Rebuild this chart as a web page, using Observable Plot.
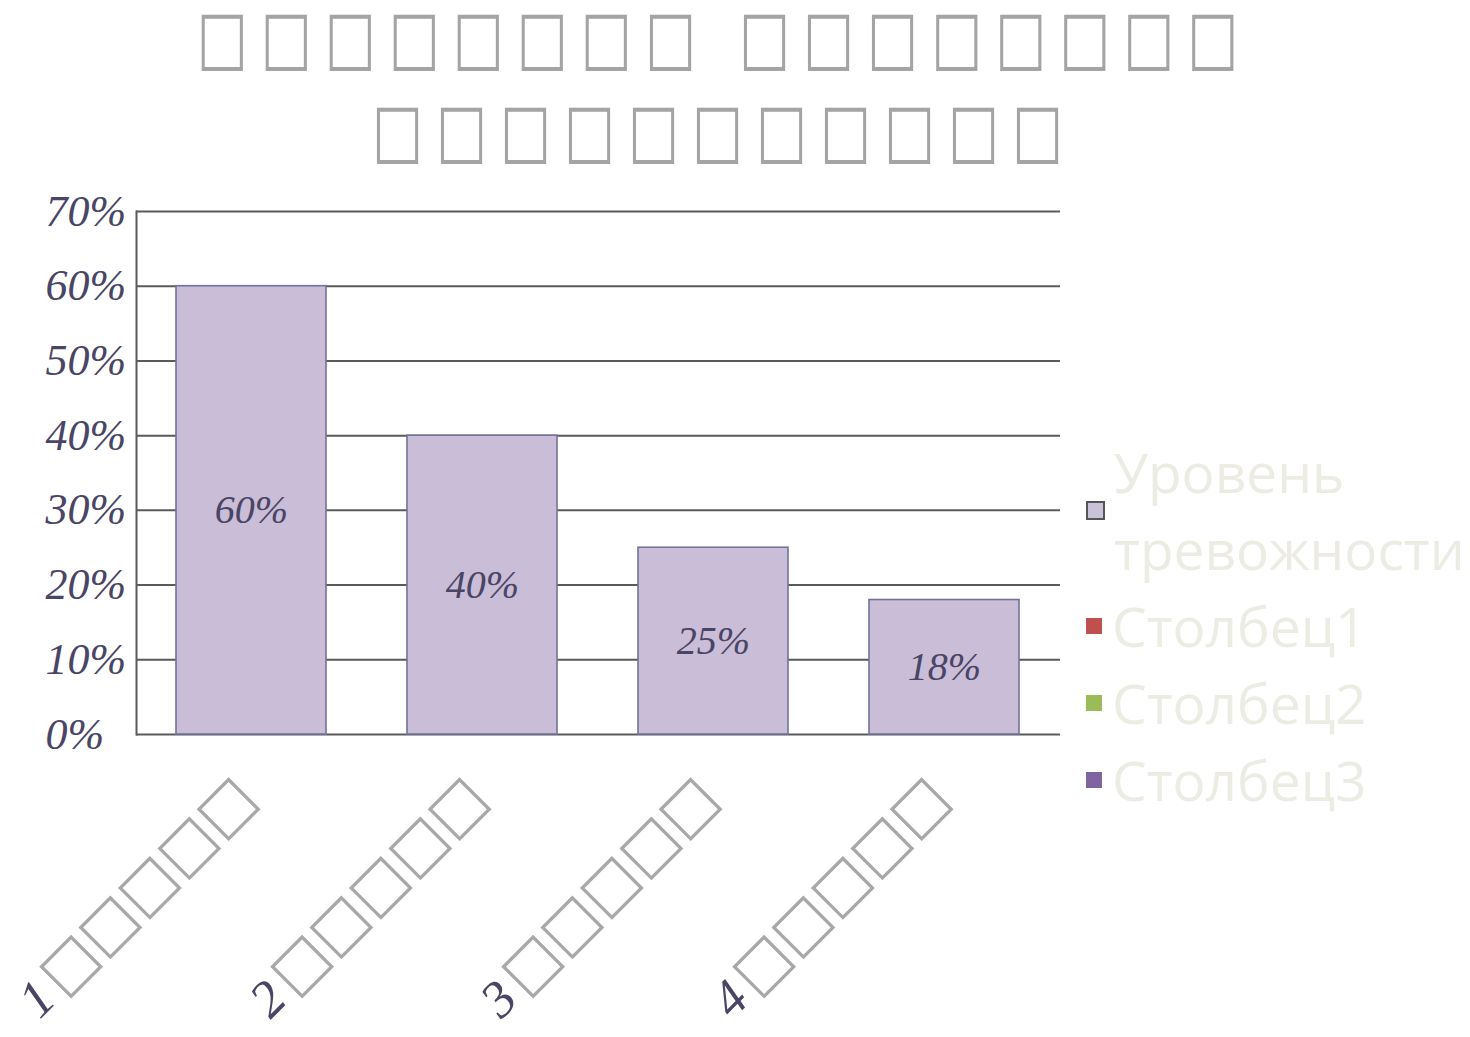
<!DOCTYPE html>
<html>
<head>
<meta charset="utf-8">
<script src="https://cdn.jsdelivr.net/npm/d3@7"></script>
<script src="https://cdn.jsdelivr.net/npm/@observablehq/plot@0.6"></script>
<style>
  html, body { margin: 0; padding: 0; background: #fff; }
  #wrap { position: relative; width: 1470px; height: 1037px; overflow: hidden; }
  #title { position: relative; height: 180px; width: 1435px; text-align: center; font-family: "DejaVu Sans"; color: #a4a4a4; }
  #title div { position: absolute; left: 0; width: 1435px; padding-left: 13px; box-sizing: border-box; height: 50px; font-size: 54px; line-height: 50px; white-space: pre; letter-spacing: 13px; transform: scaleY(1.37); transform-origin: 50% 50%; }
  #title div.l1 { top: 12px; }
  #title div.l2 { top: 105px; }
  #legend { position: absolute; left: 1086px; top: 433px; font-family: "Open Sans"; font-size: 55px; color: #ecebe4; line-height: 77px; }
  .item { display: flex; align-items: center; }
  .sw { width: 16px; height: 16px; margin-right: 10px; flex: none; }
  .txt { width: 360px; white-space: normal; }
</style>
</head>
<body>
<div id="wrap">
  <div id="title"></div>
  <div id="chart"></div>
  <div id="legend"></div>
</div>
<script>
const titleLines = ["□□□□□□□□ □□□□□□□□", "□□□□□□□□□□□"];
const categories = ["1□□□□□", "2□□□□□", "3□□□□□", "4□□□□□"];
const values = [0.60, 0.40, 0.25, 0.18];
const yTicks = [0, 0.1, 0.2, 0.3, 0.4, 0.5, 0.6, 0.7];
const legendNames = ["Уровень тревожности", "Столбец1", "Столбец2", "Столбец3"];
const legendColors = ["#c8c3d9", "#c0504d", "#9bbb59", "#8064a2"];

const title = document.getElementById("title");
titleLines.forEach((t, i) => {
  const d = document.createElement("div");
  d.className = "l" + (i + 1);
  d.textContent = t;
  title.appendChild(d);
});

const data = categories.map((c, i) => ({cat: c, value: values[i]}));
const pct = d => Math.round(d * 100) + "%";

const chart = Plot.plot({
  width: 1470,
  height: 857,
  marginTop: 31,
  marginBottom: 303,
  marginLeft: 136,
  marginRight: 410,
  x: {domain: categories, paddingInner: 0.35, paddingOuter: 0.175, label: null},
  y: {domain: [0, 0.7], label: null},
  style: {fontFamily: "Liberation Serif", fontStyle: "italic", color: "#4a4565", background: "white", overflow: "visible"},
  marks: [
    Plot.gridY(yTicks, {stroke: "#5a5a5a", strokeOpacity: 1, strokeWidth: 2}),
    Plot.frame({anchor: "left", stroke: "#5a5a5a", strokeWidth: 2}),
    Plot.barY(data, {x: "cat", y: "value", fill: "#c9bdd8", stroke: "#72729c", strokeWidth: 1.6}),
    Plot.text(data, {x: "cat", y: d => d.value / 2, text: d => pct(d.value), fontSize: 40, fill: "#4a4565"}),
    Plot.axisY({ticks: yTicks, tickFormat: pct, tickSize: 0, tickPadding: 91, textAnchor: "start", fontSize: 44, fill: "#4a4565"}),
    Plot.axisX({tickSize: 0, tickRotate: -45, tickPadding: 54, dx: -4, fontSize: 52, fill: "#4a4565"})
  ]
});
document.getElementById("chart").appendChild(chart);

// split category tick labels into number + glyph boxes
d3.select(chart).selectAll('g[aria-label="x-axis tick label"] text').each(function() {
  const s = this.textContent;
  const t = d3.select(this);
  t.text(null);
  t.append("tspan").text(s.slice(0, 1));
  t.append("tspan").text(s.slice(1)).attr("fill", "#a8a8a8").attr("font-family", "DejaVu Sans").attr("font-style", "normal").attr("font-size", 59).attr("dx", 6);
});

const legend = document.getElementById("legend");
legendNames.forEach((n, i) => {
  const item = document.createElement("div");
  item.className = "item";
  const sw = document.createElement("div");
  sw.className = "sw";
  sw.style.background = legendColors[i];
  if (i === 0) { sw.style.border = "2px solid #555"; sw.style.width = "15px"; sw.style.height = "15px"; sw.style.marginRight = "9px"; }
  const tx = document.createElement("div");
  tx.className = "txt";
  tx.textContent = n;
  item.appendChild(sw);
  item.appendChild(tx);
  legend.appendChild(item);
});
</script>
</body>
</html>
